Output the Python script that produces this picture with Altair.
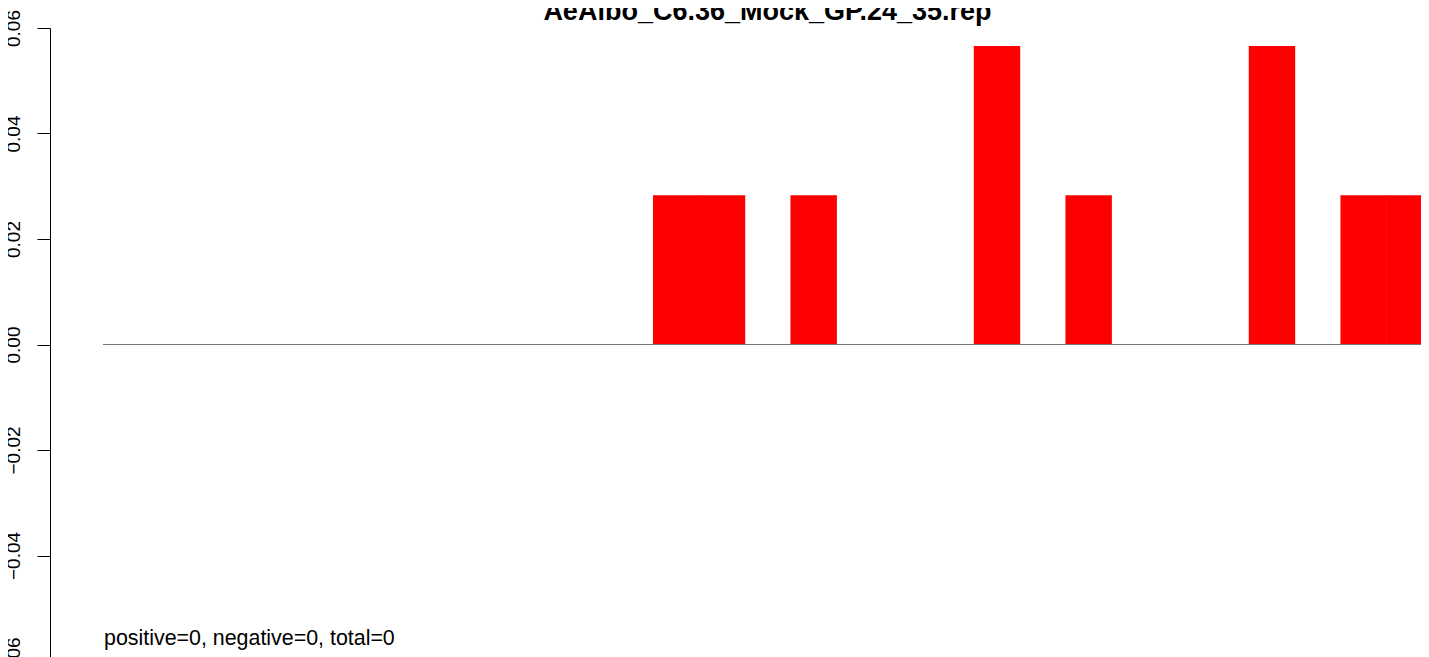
import altair as alt
import pandas as pd

# bar slots (0..28) and their heights
slots = list(range(29))
values = [0, 0, 0, 0, 0, 0, 0, 0, 0, 0, 0, 0,
          0.0283, 0.0283, 0, 0.0283, 0, 0, 0, 0.0566, 0, 0.0283,
          0, 0, 0, 0.0566, 0, 0.0283, 0.0283]
y_ticks = [-0.06, -0.04, -0.02, 0.0, 0.02, 0.04, 0.06]
title_text = "AeAlbo_C6.36_Mock_GP.24_35.rep"
note_text = "positive=0, negative=0, total=0"

df = pd.DataFrame({"x0": slots, "x1": [s + 1 for s in slots], "v": values, "base": [0.0] * len(slots)})
df_zero = pd.DataFrame({"xa": [0], "xb": [len(slots)], "y": [0.0]})

FONT = "Liberation Sans"
xscale = alt.Scale(domain=[-1.1565, 28.758], nice=False, zero=False)
yscale = alt.Scale(domain=[-0.06, 0.06], nice=False, zero=False)

bars = alt.Chart(df).mark_bar(color="#FF0000", strokeWidth=0, x2Offset=0.6).encode(
    x=alt.X("x0:Q", scale=xscale, axis=None),
    x2="x1:Q",
    y=alt.Y("base:Q", scale=yscale, title=None,
            axis=alt.Axis(values=y_ticks, grid=False, domainColor="black", domainWidth=1,
                          tickColor="black", tickWidth=1, tickSize=13,
                          labelAngle=-90, labelAlign="center", labelBaseline="middle",
                          labelPadding=24, labelFontSize=19, labelFont=FONT, labelColor="black",
                          labelExpr="replace(format(datum.value, '.2f'), '-', '\u2212')",
                          labelOverlap=False, labelFlush=False)),
    y2="v:Q",
)

zero_line = alt.Chart(df_zero).mark_rule(color="#777777", strokeWidth=1).encode(
    x=alt.X("xa:Q", scale=xscale, axis=None),
    x2="xb:Q",
    y=alt.Y("y:Q", scale=yscale),
)

title = alt.Chart(pd.DataFrame({"t": [title_text]})).mark_text(
    font=FONT, fontSize=27, fontWeight="bold", color="black", align="center", baseline="alphabetic"
).encode(x=alt.value(717.5), y=alt.value(-8.5), text="t:N")

note = alt.Chart(pd.DataFrame({"t": [note_text]})).mark_text(
    font=FONT, fontSize=21.4, color="black", align="left", baseline="alphabetic"
).encode(x=alt.value(54), y=alt.value(617), text="t:N")

chart = alt.layer(bars, zero_line, title, note).properties(
    width=1371, height=633,
    padding={"left": 42, "top": 20, "right": 0, "bottom": 30},
    autosize=alt.AutoSizeParams(type="none"),
    background="white",
).configure_view(stroke=None)

chart.save("out.html", embed_options={"renderer": "svg", "actions": False})
